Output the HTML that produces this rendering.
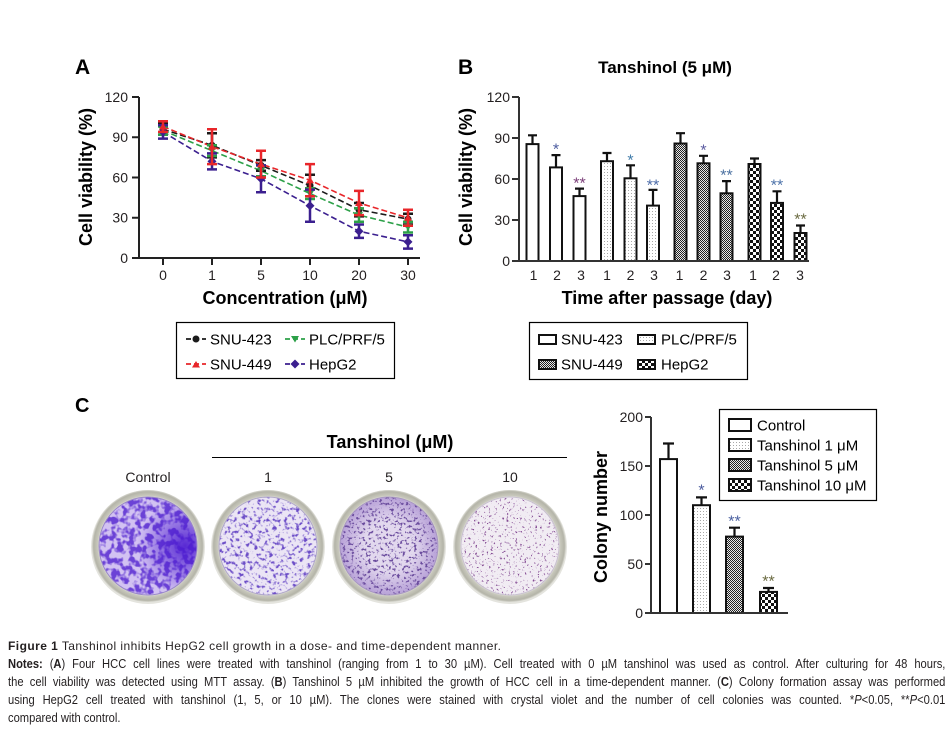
<!DOCTYPE html>
<html><head><meta charset="utf-8">
<style>
html,body{margin:0;padding:0;background:#fff;}
body{width:951px;height:729px;position:relative;overflow:hidden;font-family:"Liberation Sans",Arial,sans-serif;}
svg{position:absolute;left:0;top:0;}
#cap{position:absolute;left:8px;top:637px;width:937px;font-family:"Liberation Sans",Arial,sans-serif;font-size:12px;line-height:18px;color:#231f20;}
#cap1{letter-spacing:0.45px;white-space:nowrap;}
#capb{width:1090px;transform:scaleX(0.86);transform-origin:0 0;font-size:13px;}
#capb .j{text-align:justify;text-align-last:justify;}
</style></head>
<body>
<svg width="951" height="729" viewBox="0 0 951 729" xmlns="http://www.w3.org/2000/svg" font-family="'Liberation Sans', Arial, sans-serif">
<defs>
  <pattern id="pDot" width="3" height="3" patternUnits="userSpaceOnUse"><rect width="3" height="3" fill="#fff"/><rect x="1" y="1" width="1" height="1" fill="#a8a8a8"/></pattern>
  <pattern id="pFine" width="2" height="2" patternUnits="userSpaceOnUse"><rect width="2" height="2" fill="#e8e8e8"/><rect width="1" height="1" fill="#222"/><rect x="1" y="1" width="1" height="1" fill="#222"/></pattern>
  <pattern id="pChk" width="6" height="6" patternUnits="userSpaceOnUse"><rect width="6" height="6" fill="#fff"/><rect width="3" height="3" fill="#111"/><rect x="3" y="3" width="3" height="3" fill="#111"/></pattern>

  <clipPath id="c0"><circle cx="148" cy="546" r="49"/></clipPath>
  <clipPath id="c1"><circle cx="268" cy="546" r="49"/></clipPath>
  <clipPath id="c2"><circle cx="389" cy="546" r="49"/></clipPath>
  <clipPath id="c3"><circle cx="510" cy="546" r="49"/></clipPath>

  <filter id="t0" x="95" y="493" width="106" height="106" filterUnits="userSpaceOnUse" color-interpolation-filters="sRGB">
    <feTurbulence type="fractalNoise" baseFrequency="0.17" numOctaves="2" seed="3"/>
    <feColorMatrix type="matrix" values="0 0 0 0 0.42  0 0 0 0 0.26  0 0 0 0 0.84  5 0 0 0 -2.1"/>
  </filter>
  <filter id="t1" x="215" y="493" width="106" height="106" filterUnits="userSpaceOnUse" color-interpolation-filters="sRGB">
    <feTurbulence type="fractalNoise" baseFrequency="0.26" numOctaves="2" seed="7"/>
    <feColorMatrix type="matrix" values="0 0 0 0 0.42  0 0 0 0 0.30  0 0 0 0 0.78  5 0 0 0 -2.6"/>
  </filter>
  <filter id="t2" x="336" y="493" width="106" height="106" filterUnits="userSpaceOnUse" color-interpolation-filters="sRGB">
    <feTurbulence type="fractalNoise" baseFrequency="0.35" numOctaves="2" seed="11"/>
    <feColorMatrix type="matrix" values="0 0 0 0 0.42  0 0 0 0 0.30  0 0 0 0 0.62  7 0 0 0 -3.9"/>
  </filter>
  <filter id="t3" x="457" y="493" width="106" height="106" filterUnits="userSpaceOnUse" color-interpolation-filters="sRGB">
    <feTurbulence type="fractalNoise" baseFrequency="0.45" numOctaves="2" seed="19"/>
    <feColorMatrix type="matrix" values="0 0 0 0 0.52  0 0 0 0 0.30  0 0 0 0 0.58  9 0 0 0 -5.6"/>
  </filter>
  <radialGradient id="g0" cx="0.85" cy="0.5" r="0.45"><stop offset="0" stop-color="#4a18d0" stop-opacity="0.9"/><stop offset="1" stop-color="#4a18d0" stop-opacity="0"/></radialGradient>
  <radialGradient id="g2" cx="0.5" cy="0.5" r="0.5"><stop offset="0.5" stop-color="#e2d8ee"/><stop offset="1" stop-color="#b8a2d8"/></radialGradient>
  <radialGradient id="rim" cx="0.5" cy="0.5" r="0.5"><stop offset="0.86" stop-color="#f2f2ee"/><stop offset="0.9" stop-color="#c8c8bc"/><stop offset="0.97" stop-color="#b4b4a8"/><stop offset="1" stop-color="#d8d8d0"/></radialGradient>
</defs>

<!-- ================= PANEL A ================= -->
<text x="75" y="74" font-size="21" font-weight="bold" fill="#000">A</text>
<g stroke="#222" stroke-width="2" fill="none">
  <line x1="139" y1="97" x2="139" y2="259"/>
  <line x1="138" y1="258" x2="420" y2="258"/>
  <line x1="132" y1="97" x2="139" y2="97"/>
  <line x1="132" y1="137.25" x2="139" y2="137.25"/>
  <line x1="132" y1="177.5" x2="139" y2="177.5"/>
  <line x1="132" y1="217.75" x2="139" y2="217.75"/>
  <line x1="132" y1="258" x2="139" y2="258"/>
  <line x1="163" y1="258" x2="163" y2="265"/>
  <line x1="212" y1="258" x2="212" y2="265"/>
  <line x1="261" y1="258" x2="261" y2="265"/>
  <line x1="310" y1="258" x2="310" y2="265"/>
  <line x1="359" y1="258" x2="359" y2="265"/>
  <line x1="408" y1="258" x2="408" y2="265"/>
</g>
<g font-size="14" fill="#231f20" text-anchor="end">
  <text x="128" y="102">120</text>
  <text x="128" y="142">90</text>
  <text x="128" y="182.5">60</text>
  <text x="128" y="222.5">30</text>
  <text x="128" y="263">0</text>
</g>
<g font-size="14" fill="#231f20" text-anchor="middle">
  <text x="163" y="280">0</text>
  <text x="212" y="280">1</text>
  <text x="261" y="280">5</text>
  <text x="310" y="280">10</text>
  <text x="359" y="280">20</text>
  <text x="408" y="280">30</text>
</g>
<text x="285" y="304" font-size="18" font-weight="bold" text-anchor="middle" fill="#000">Concentration (μM)</text>
<text transform="translate(92,177) rotate(-90)" font-size="18" font-weight="bold" text-anchor="middle" fill="#000">Cell viability (%)</text>

<!-- series lines -->
<g fill="none" stroke-width="1.6" stroke-dasharray="6 3">
  <polyline stroke="#1a1a1a" points="163,129.2 212,145.3 261,165.4 310,185.6 359,209.7 408,219.1"/>
  <polyline stroke="#2ca048" points="163,130.5 212,150.7 261,170.8 310,193.6 359,215.1 408,227.1"/>
  <polyline stroke="#3b1f8f" points="163,131.9 212,161.4 261,178.8 310,205.7 359,231.2 408,241.9"/>
  <polyline stroke="#e8262a" points="163,126.5 212,146.6 261,164.1 310,180.2 359,203.0 408,217.8"/>
</g>
<!-- error bars: black -->
<g stroke="#1a1a1a" stroke-width="2.5" fill="none">
  <path d="M163 123.8V134.6M158 123.8H168M158 134.6H168"/>
  <path d="M212 133.2V157.4M207 133.2H217M207 157.4H217"/>
  <path d="M261 160.1V170.8M256 160.1H266M256 170.8H266"/>
  <path d="M310 174.8V196.3M305 174.8H315M305 196.3H315"/>
  <path d="M359 203.0V216.4M354 203.0H364M354 216.4H364"/>
  <path d="M408 213.7V224.5M403 213.7H413M403 224.5H413"/>
</g>
<g fill="#1a1a1a">
  <circle cx="163" cy="129.2" r="3.5"/><circle cx="212" cy="145.3" r="3.5"/><circle cx="261" cy="165.4" r="3.5"/>
  <circle cx="310" cy="185.6" r="3.5"/><circle cx="359" cy="209.7" r="3.5"/><circle cx="408" cy="219.1" r="3.5"/>
</g>
<!-- green -->
<g stroke="#2ca048" stroke-width="2.5" fill="none">
  <path d="M163 126.5V134.6M158 126.5H168M158 134.6H168"/>
  <path d="M212 145.3V156.0M207 145.3H217M207 156.0H217"/>
  <path d="M261 165.4V176.2M256 165.4H266M256 176.2H266"/>
  <path d="M310 188.2V199.0M305 188.2H315M305 199.0H315"/>
  <path d="M359 208.4V221.8M354 208.4H364M354 221.8H364"/>
  <path d="M408 221.8V232.5M403 221.8H413M403 232.5H413"/>
</g>
<g fill="#2ca048">
  <path d="M159 127.5H167L163 134Z"/><path d="M208 147.7H216L212 154.2Z"/><path d="M257 167.8H265L261 174.3Z"/>
  <path d="M306 190.6H314L310 197.1Z"/><path d="M355 212.1H363L359 218.6Z"/><path d="M404 224.1H412L408 230.6Z"/>
</g>
<!-- purple -->
<g stroke="#3b1f8f" stroke-width="2.5" fill="none">
  <path d="M163 125.2V138.6M158 125.2H168M158 138.6H168"/>
  <path d="M212 153.4V169.4M207 153.4H217M207 169.4H217"/>
  <path d="M261 165.4V192.3M256 165.4H266M256 192.3H266"/>
  <path d="M310 189.6V221.8M305 189.6H315M305 221.8H315"/>
  <path d="M359 224.5V237.9M354 224.5H364M354 237.9H364"/>
  <path d="M408 235.2V248.6M403 235.2H413M403 248.6H413"/>
</g>
<g fill="#3b1f8f">
  <path d="M163 127.4L167.5 131.9L163 136.4L158.5 131.9Z"/><path d="M212 156.9L216.5 161.4L212 165.9L207.5 161.4Z"/>
  <path d="M261 174.3L265.5 178.8L261 183.3L256.5 178.8Z"/><path d="M310 201.2L314.5 205.7L310 210.2L305.5 205.7Z"/>
  <path d="M359 226.7L363.5 231.2L359 235.7L354.5 231.2Z"/><path d="M408 237.4L412.5 241.9L408 246.4L403.5 241.9Z"/>
</g>
<!-- red -->
<g stroke="#e8262a" stroke-width="2.5" fill="none">
  <path d="M163 121.2V131.9M158 121.2H168M158 131.9H168"/>
  <path d="M212 129.2V164.1M207 129.2H217M207 164.1H217"/>
  <path d="M261 150.7V177.5M256 150.7H266M256 177.5H266"/>
  <path d="M310 164.1V196.3M305 164.1H315M305 196.3H315"/>
  <path d="M359 190.9V215.1M354 190.9H364M354 215.1H364"/>
  <path d="M408 209.7V225.8M403 209.7H413M403 225.8H413"/>
</g>
<g fill="#e8262a">
  <path d="M159 129.5H167L163 123Z"/><path d="M208 149.6H216L212 143.1Z"/><path d="M257 167.1H265L261 160.6Z"/>
  <path d="M306 183.2H314L310 176.7Z"/><path d="M355 206H363L359 199.5Z"/><path d="M404 220.8H412L408 214.3Z"/>
</g>

<!-- Legend A -->
<rect x="176.5" y="322.5" width="218" height="56" fill="#fff" stroke="#000" stroke-width="1.2"/>
<g font-size="15" fill="#000">
  <text x="210" y="344.5">SNU-423</text>
  <text x="309" y="344.5">PLC/PRF/5</text>
  <text x="210" y="369.5">SNU-449</text>
  <text x="309" y="369.5">HepG2</text>
</g>
<g fill="none" stroke-width="1.8" stroke-dasharray="5 3">
  <line x1="186" y1="339" x2="206" y2="339" stroke="#1a1a1a"/>
  <line x1="285" y1="339" x2="305" y2="339" stroke="#2ca048"/>
  <line x1="186" y1="364" x2="206" y2="364" stroke="#e8262a"/>
  <line x1="285" y1="364" x2="305" y2="364" stroke="#3b1f8f"/>
</g>
<circle cx="196" cy="339" r="3.5" fill="#1a1a1a"/>
<path d="M291 336H299L295 342.5Z" fill="#2ca048"/>
<path d="M192 367.5H200L196 361Z" fill="#e8262a"/>
<path d="M295 359.5L299.5 364L295 368.5L290.5 364Z" fill="#3b1f8f"/>

<!-- ================= PANEL B ================= -->
<text x="458" y="74" font-size="21" font-weight="bold" fill="#000">B</text>
<text x="665" y="73" font-size="17" font-weight="bold" text-anchor="middle" fill="#000">Tanshinol (5 μM)</text>
<g font-size="14" fill="#231f20" text-anchor="end">
  <text x="510" y="102">120</text>
  <text x="510" y="143">90</text>
  <text x="510" y="184">60</text>
  <text x="510" y="225">30</text>
  <text x="510" y="266">0</text>
</g>
<text x="667" y="304" font-size="18" font-weight="bold" text-anchor="middle" fill="#000">Time after passage (day)</text>
<text transform="translate(472,177) rotate(-90)" font-size="18" font-weight="bold" text-anchor="middle" fill="#000">Cell viability (%)</text>

<!-- bars B -->
<g stroke="#111" stroke-width="2">
  <rect x="526.5" y="144.1" width="12" height="116.9" fill="#fff"/>
  <rect x="550" y="167.4" width="12" height="93.6" fill="#fff"/>
  <rect x="573.5" y="196.1" width="12" height="64.9" fill="#fff"/>
  <rect x="601" y="161.2" width="12" height="99.8" fill="url(#pDot)"/>
  <rect x="624.5" y="178.3" width="12" height="82.7" fill="url(#pDot)"/>
  <rect x="647" y="205.6" width="12" height="55.4" fill="url(#pDot)"/>
  <rect x="674.5" y="143.5" width="12" height="117.5" fill="url(#pFine)"/>
  <rect x="697.5" y="163.3" width="12" height="97.7" fill="url(#pFine)"/>
  <rect x="720.5" y="193.3" width="12" height="67.7" fill="url(#pFine)"/>
  <rect x="748.5" y="164.0" width="12" height="97" fill="url(#pChk)"/>
  <rect x="771" y="202.9" width="12" height="58.1" fill="url(#pChk)"/>
  <rect x="794.5" y="233.0" width="12" height="28" fill="url(#pChk)"/>
</g>
<g stroke="#111" stroke-width="2.2" fill="none">
  <path d="M532.5 144.1V135.3M528 135.3H537"/>
  <path d="M556 167.4V155.1M551.5 155.1H560.5"/>
  <path d="M579.5 196.1V188.6M575 188.6H584"/>
  <path d="M607 161.2V153.0M602.5 153.0H611.5"/>
  <path d="M630.5 178.3V165.3M626 165.3H635"/>
  <path d="M653 205.6V189.9M648.5 189.9H657.5"/>
  <path d="M680.5 143.5V133.2M676 133.2H685"/>
  <path d="M703.5 163.3V155.8M699 155.8H708"/>
  <path d="M726.5 193.3V181.1M722 181.1H731"/>
  <path d="M754.5 164.0V158.5M750 158.5H759"/>
  <path d="M777 202.9V191.3M772.5 191.3H781.5"/>
  <path d="M800.5 233.0V225.5M796 225.5H805"/>
</g>
<g stroke="#333" stroke-width="2" fill="none">
  <line x1="519" y1="97" x2="519" y2="262"/>
  <line x1="518" y1="261" x2="809" y2="261"/>
  <line x1="512" y1="97" x2="519" y2="97"/>
  <line x1="512" y1="138" x2="519" y2="138"/>
  <line x1="512" y1="179" x2="519" y2="179"/>
  <line x1="512" y1="220" x2="519" y2="220"/>
  <line x1="512" y1="261" x2="519" y2="261"/>
</g>
<g font-size="16" text-anchor="middle">
  <text x="556" y="154.5" fill="#4a5a9e">*</text>
  <text x="579.5" y="188.5" fill="#7a3d78">**</text>
  <text x="630.5" y="165.5" fill="#3e7aa8">*</text>
  <text x="653" y="190.5" fill="#4a6aa8">**</text>
  <text x="703.5" y="155.5" fill="#5a5aa0">*</text>
  <text x="726.5" y="180.5" fill="#4a70a0">**</text>
  <text x="777" y="190.5" fill="#4a70a8">**</text>
  <text x="800.5" y="224.5" fill="#6a6a40">**</text>
</g>
<g font-size="14" fill="#231f20" text-anchor="middle">
  <text x="533.5" y="280">1</text><text x="557" y="280">2</text><text x="581" y="280">3</text>
  <text x="607" y="280">1</text><text x="630.5" y="280">2</text><text x="654" y="280">3</text>
  <text x="679.5" y="280">1</text><text x="703.5" y="280">2</text><text x="727" y="280">3</text>
  <text x="753" y="280">1</text><text x="776" y="280">2</text><text x="800" y="280">3</text>
</g>

<!-- Legend B -->
<rect x="529.5" y="322.5" width="218" height="57" fill="#fff" stroke="#000" stroke-width="1.2"/>
<g stroke="#111" stroke-width="2">
  <rect x="539" y="335" width="17" height="9" fill="#fff"/>
  <rect x="638" y="335" width="17" height="9" fill="url(#pDot)"/>
  <rect x="539" y="360" width="17" height="9" fill="url(#pFine)"/>
  <rect x="638" y="360" width="17" height="9" fill="url(#pChk)"/>
</g>
<g font-size="15" fill="#000">
  <text x="561" y="344.5">SNU-423</text>
  <text x="661" y="344.5">PLC/PRF/5</text>
  <text x="561" y="369.5">SNU-449</text>
  <text x="661" y="369.5">HepG2</text>
</g>

<!-- ================= PANEL C ================= -->
<text x="75" y="412" font-size="20" font-weight="bold" fill="#000">C</text>
<text x="390" y="448" font-size="18" font-weight="bold" text-anchor="middle" fill="#000">Tanshinol (μM)</text>
<line x1="212" y1="457.5" x2="567" y2="457.5" stroke="#000" stroke-width="1"/>
<g font-size="14" fill="#231f20" text-anchor="middle">
  <text x="148" y="482">Control</text>
  <text x="268" y="482">1</text>
  <text x="389" y="482">5</text>
  <text x="510" y="482">10</text>
</g>

<!-- dishes -->
<g>
  <circle cx="148" cy="547" r="57" fill="#e4e4de"/>
  <circle cx="148" cy="546" r="56" fill="url(#rim)"/>
  <circle cx="148" cy="546" r="49" fill="#d2c2f2"/>
  <rect x="95" y="493" width="106" height="106" fill="#000" filter="url(#t0)" clip-path="url(#c0)"/>
  <rect x="95" y="493" width="106" height="106" fill="url(#g0)" clip-path="url(#c0)"/>
  <circle cx="148" cy="546" r="49" fill="none" stroke="#9a88c8" stroke-width="1"/>
</g>
<g>
  <circle cx="268" cy="547" r="57" fill="#e4e4de"/>
  <circle cx="268" cy="546" r="56" fill="url(#rim)"/>
  <circle cx="268" cy="546" r="49" fill="#ebe5f5"/>
  <rect x="215" y="493" width="106" height="106" fill="#000" filter="url(#t1)" clip-path="url(#c1)"/>
  <circle cx="268" cy="546" r="49" fill="none" stroke="#b0a8c8" stroke-width="1"/>
</g>
<g>
  <circle cx="389" cy="547" r="57" fill="#e4e4de"/>
  <circle cx="389" cy="546" r="56" fill="url(#rim)"/>
  <circle cx="389" cy="546" r="49" fill="url(#g2)"/>
  <rect x="336" y="493" width="106" height="106" fill="#000" filter="url(#t2)" clip-path="url(#c2)"/>
  <circle cx="389" cy="546" r="49" fill="none" stroke="#a898c0" stroke-width="1"/>
</g>
<g>
  <circle cx="510" cy="547" r="57" fill="#e4e4de"/>
  <circle cx="510" cy="546" r="56" fill="url(#rim)"/>
  <circle cx="510" cy="546" r="49" fill="#f1ecf3"/>
  <rect x="457" y="493" width="106" height="106" fill="#000" filter="url(#t3)" clip-path="url(#c3)"/>
  <circle cx="510" cy="546" r="49" fill="none" stroke="#c8c0d0" stroke-width="1"/>
</g>

<!-- colony bar chart -->
<g font-size="14" fill="#231f20" text-anchor="end">
  <text x="643" y="422">200</text>
  <text x="643" y="471">150</text>
  <text x="643" y="520">100</text>
  <text x="643" y="569">50</text>
  <text x="643" y="618">0</text>
</g>
<text transform="translate(607,517) rotate(-90)" font-size="18" font-weight="bold" text-anchor="middle" fill="#000">Colony number</text>
<g stroke="#111" stroke-width="2">
  <rect x="660" y="459.1" width="17" height="153.9" fill="#fff"/>
  <rect x="693" y="505.2" width="17" height="107.8" fill="url(#pDot)"/>
  <rect x="726" y="536.6" width="17" height="76.4" fill="url(#pFine)"/>
  <rect x="760" y="591.9" width="17" height="21.1" fill="url(#pChk)"/>
</g>
<g stroke="#111" stroke-width="2.2" fill="none">
  <path d="M668.5 459.1V443.5M663 443.5H674"/>
  <path d="M701.5 505.2V497.4M696 497.4H707"/>
  <path d="M734.5 536.6V527.7M729 527.7H740"/>
  <path d="M768.5 591.9V588M763 588H774"/>
</g>
<g stroke="#333" stroke-width="2" fill="none">
  <line x1="651" y1="417" x2="651" y2="614"/>
  <line x1="650" y1="613" x2="788" y2="613"/>
  <line x1="645" y1="417" x2="651" y2="417"/>
  <line x1="645" y1="466" x2="651" y2="466"/>
  <line x1="645" y1="515" x2="651" y2="515"/>
  <line x1="645" y1="564" x2="651" y2="564"/>
  <line x1="645" y1="613" x2="651" y2="613"/>
</g>
<g font-size="16" text-anchor="middle">
  <text x="701.5" y="495.5" fill="#4a5a9e">*</text>
  <text x="734.5" y="526.5" fill="#4a60a0">**</text>
  <text x="768.5" y="586.5" fill="#6a6a40">**</text>
</g>
<!-- legend C -->
<rect x="719.5" y="409.5" width="157" height="91" fill="#fff" stroke="#000" stroke-width="1.2"/>
<g stroke="#111" stroke-width="2">
  <rect x="729" y="419" width="22" height="12" fill="#fff"/>
  <rect x="729" y="439" width="22" height="12" fill="url(#pDot)"/>
  <rect x="729" y="459" width="22" height="12" fill="url(#pFine)"/>
  <rect x="729" y="479" width="22" height="12" fill="url(#pChk)"/>
</g>
<g font-size="15" fill="#000">
  <text x="757" y="430.5">Control</text>
  <text x="757" y="450.5">Tanshinol 1 μM</text>
  <text x="757" y="470.5">Tanshinol 5 μM</text>
  <text x="757" y="490.5">Tanshinol 10 μM</text>
</g>
</svg>

<div id="cap">
<div id="cap1"><b>Figure 1</b> Tanshinol inhibits HepG2 cell growth in a dose- and time-dependent manner.</div>
<div id="capb">
<div class="j"><b>Notes:</b> (<b>A</b>) Four HCC cell lines were treated with tanshinol (ranging from 1 to 30 µM). Cell treated with 0 µM tanshinol was used as control. After culturing for 48 hours,</div>
<div class="j">the cell viability was detected using MTT assay. (<b>B</b>) Tanshinol 5 µM inhibited the growth of HCC cell in a time-dependent manner. (<b>C</b>) Colony formation assay was performed</div>
<div class="j">using HepG2 cell treated with tanshinol (1, 5, or 10 µM). The clones were stained with crystal violet and the number of cell colonies was counted. *<i>P</i>&lt;0.05, **<i>P</i>&lt;0.01</div>
<div>compared with control.</div>
</div>
</div>
</body></html>
